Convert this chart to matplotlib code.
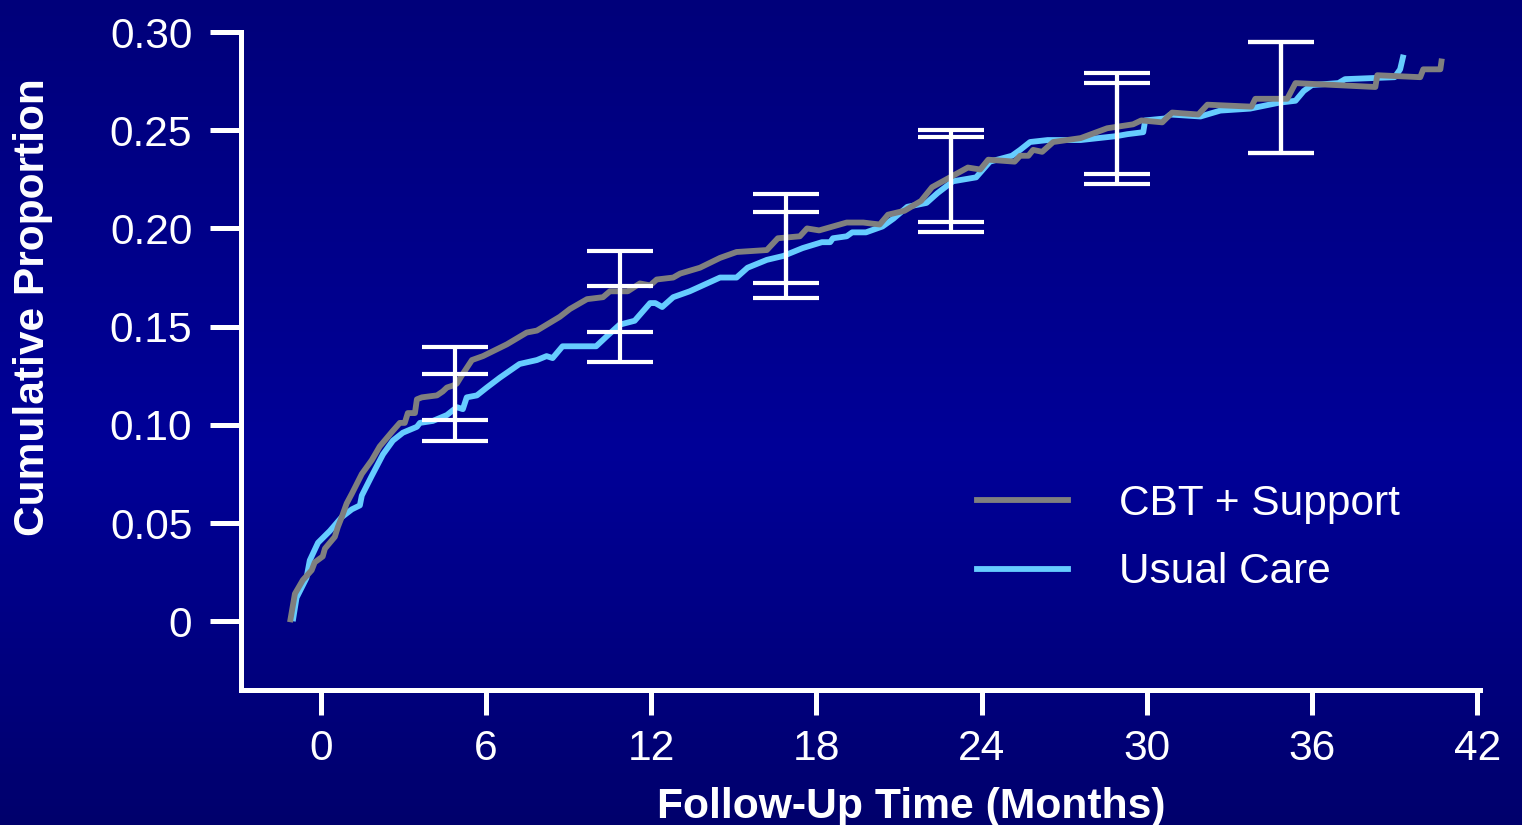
import matplotlib
matplotlib.use('Agg')
import matplotlib.pyplot as plt
import numpy as np
from matplotlib.colors import LinearSegmentedColormap

plt.rcParams['font.family'] = ['Liberation Sans', 'DejaVu Sans']

# cumulative proportion over follow-up (months)
cbt_t = [-1.1, -0.94, -0.65, -0.33, -0.22, 0.07, 0.15, 0.51, 0.62, 0.76,
         0.94, 1.13, 1.49, 1.85, 2.14, 2.62, 2.87, 3.05, 3.16, 3.42,
         3.49, 3.67, 4.22, 4.43, 4.58, 4.80, 4.94, 5.16, 5.49, 5.89,
         6.76, 7.48, 7.85, 8.68, 9.05, 9.67, 10.25, 10.50, 11.15, 11.59,
         11.96, 12.2, 12.8, 13.05, 13.77, 14.5, 15.1, 16.2, 16.6, 17.4,
         17.66, 18.1, 19.1, 19.7, 20.3, 20.6, 21.2, 21.8, 22.2, 22.85,
         23.5, 23.95, 24.24, 25.2, 25.4, 25.7, 25.87, 26.2, 26.6, 27.6,
         28.56, 29.5, 29.8, 30.56, 30.92, 31.87, 32.2, 33.8, 33.94, 35.1,
         35.4, 38.3, 38.37, 39.93, 40.04, 40.66, 40.7]
cbt_p = [0.001, 0.014, 0.021, 0.026, 0.030, 0.033, 0.037, 0.043, 0.048, 0.053,
         0.060, 0.065, 0.075, 0.082, 0.089, 0.097, 0.101, 0.101, 0.106, 0.106,
         0.113, 0.114, 0.115, 0.117, 0.119, 0.120, 0.121, 0.126, 0.133, 0.135,
         0.141, 0.147, 0.148, 0.155, 0.159, 0.164, 0.165, 0.168, 0.168, 0.172,
         0.171, 0.174, 0.175, 0.177, 0.180, 0.185, 0.188, 0.189, 0.195, 0.196,
         0.200, 0.199, 0.203, 0.203, 0.202, 0.207, 0.209, 0.214, 0.221, 0.226,
         0.231, 0.230, 0.235, 0.234, 0.237, 0.237, 0.240, 0.239, 0.244, 0.246,
         0.251, 0.253, 0.255, 0.254, 0.259, 0.258, 0.263, 0.262, 0.266, 0.266,
         0.274, 0.272, 0.278, 0.277, 0.281, 0.281, 0.285]

uc_t = [-1.0, -0.88, -0.52, -0.4, -0.1, 0.33, 0.76, 1.13, 1.42, 1.49,
        1.85, 2.26, 2.62, 2.98, 3.49, 3.6, 4.07, 4.58, 4.94, 5.16,
        5.3, 5.67, 6.03, 6.5, 7.22, 7.85, 8.2, 8.42, 8.78, 10.0,
        10.38, 10.85, 11.4, 11.96, 12.15, 12.4, 12.8, 13.4, 14.5, 15.1,
        15.5, 16.2, 16.8, 17.5, 18.2, 18.5, 18.6, 19.1, 19.3, 19.8,
        20.4, 20.8, 21.3, 22.0, 22.4, 22.96, 23.8, 24.3, 25.1, 25.4,
        25.76, 26.4, 27.6, 28.9, 29.3, 29.87, 29.94, 30.67, 30.85, 31.95,
        32.67, 33.75, 34.8, 35.4, 35.7, 36.0, 36.96, 37.2, 39.0, 39.2,
        39.3]
uc_p = [0.0015, 0.012, 0.022, 0.031, 0.040, 0.046, 0.053, 0.057, 0.059, 0.064,
        0.074, 0.085, 0.092, 0.096, 0.099, 0.101, 0.102, 0.105, 0.109, 0.108,
        0.114, 0.115, 0.119, 0.124, 0.131, 0.133, 0.135, 0.134, 0.140, 0.140,
        0.145, 0.151, 0.153, 0.162, 0.162, 0.160, 0.165, 0.168, 0.175, 0.175,
        0.180, 0.184, 0.186, 0.190, 0.193, 0.193, 0.195, 0.196, 0.198, 0.198,
        0.201, 0.205, 0.211, 0.213, 0.218, 0.224, 0.226, 0.234, 0.237, 0.240,
        0.244, 0.245, 0.245, 0.247, 0.248, 0.249, 0.255, 0.256, 0.258, 0.257,
        0.260, 0.261, 0.264, 0.265, 0.270, 0.273, 0.274, 0.276, 0.277, 0.281,
        0.287]

# confidence intervals at the follow-up visits
ci_t = [4.89, 10.86, 16.9, 22.88, 28.91, 34.87]
cbt_lo = [0.1027, 0.1471, 0.1723, 0.2034, 0.2275, 0.2382]
cbt_hi = [0.1397, 0.1886, 0.2175, 0.2501, 0.2790, 0.2948]
uc_lo = [0.0917, 0.1318, 0.1644, 0.1981, 0.2224, 0.2382]
uc_hi = [0.1258, 0.1706, 0.2082, 0.2464, 0.2739, 0.2948]

x_ticks = [0, 6, 12, 18, 24, 30, 36, 42]
y_ticks = [0, 0.05, 0.10, 0.15, 0.20, 0.25, 0.30]
y_ticklabels = ['0', '0.05', '0.10', '0.15', '0.20', '0.25', '0.30']

gray = '#7f7f7f'
light_blue = '#66ccff'

fig = plt.figure(figsize=(15.22, 8.25), dpi=100)

# vertical navy gradient behind everything
bg = fig.add_axes([0, 0, 1, 1], zorder=-10)
cmap = LinearSegmentedColormap.from_list(
    'navy', [(0.0, '#00007a'), (0.55, '#000098'), (1.0, '#00006c')])
bg.imshow(np.linspace(0, 1, 256).reshape(-1, 1), aspect='auto', cmap=cmap,
          extent=[0, 1, 0, 1])
bg.axis('off')

ax = fig.add_axes([0.1583, 0.1636, 0.8141, 0.7976])
ax.set_facecolor('none')

ax.plot(uc_t, uc_p, color=light_blue, lw=4.2, label='Usual Care', zorder=3)
ax.plot(cbt_t, cbt_p, color=gray, lw=4.2, label='CBT + Support', zorder=4)

for lo, hi in [(cbt_lo, cbt_hi), (uc_lo, uc_hi)]:
    lo = np.array(lo)
    hi = np.array(hi)
    mid = (lo + hi) / 2
    ax.errorbar(ci_t, mid, yerr=[mid - lo, hi - mid], fmt='none',
                ecolor='white', elinewidth=3, capsize=24, capthick=3,
                zorder=5)

ax.set_xlim(-2.9, 42.1)
ax.set_ylim(-0.035, 0.30)
ax.set_xticks(x_ticks)
ax.set_yticks(y_ticks)
ax.set_yticklabels(y_ticklabels)

for side in ['top', 'right']:
    ax.spines[side].set_visible(False)
for side in ['left', 'bottom']:
    ax.spines[side].set_color('white')
    ax.spines[side].set_linewidth(3.6)

ax.tick_params(axis='both', colors='white', labelcolor='white',
               labelsize=30.6, width=3.6, direction='out')
ax.tick_params(axis='y', length=22, pad=13)
ax.tick_params(axis='x', length=18, pad=10)

fig.text(911 / 1522, 1 - 818 / 825, 'Follow-Up Time (Months)',
         color='white', fontsize=30.7, fontweight='bold',
         ha='center', va='baseline')
fig.text(33 / 1522, 1 - 307 / 825, 'Cumulative Proportion',
         color='white', fontsize=30.6, fontweight='bold',
         ha='center', va='center', rotation=90)

handles, labels = ax.get_legend_handles_labels()
leg = ax.legend(handles[::-1], labels[::-1], loc='center left',
                bbox_to_anchor=(0.594, 0.231), frameon=False,
                fontsize=30.5, labelcolor='white', handlelength=2.15,
                handletextpad=1.2, labelspacing=0.68, borderpad=0,
                borderaxespad=0)

fig.savefig('out.png', dpi=100, facecolor=fig.get_facecolor())
